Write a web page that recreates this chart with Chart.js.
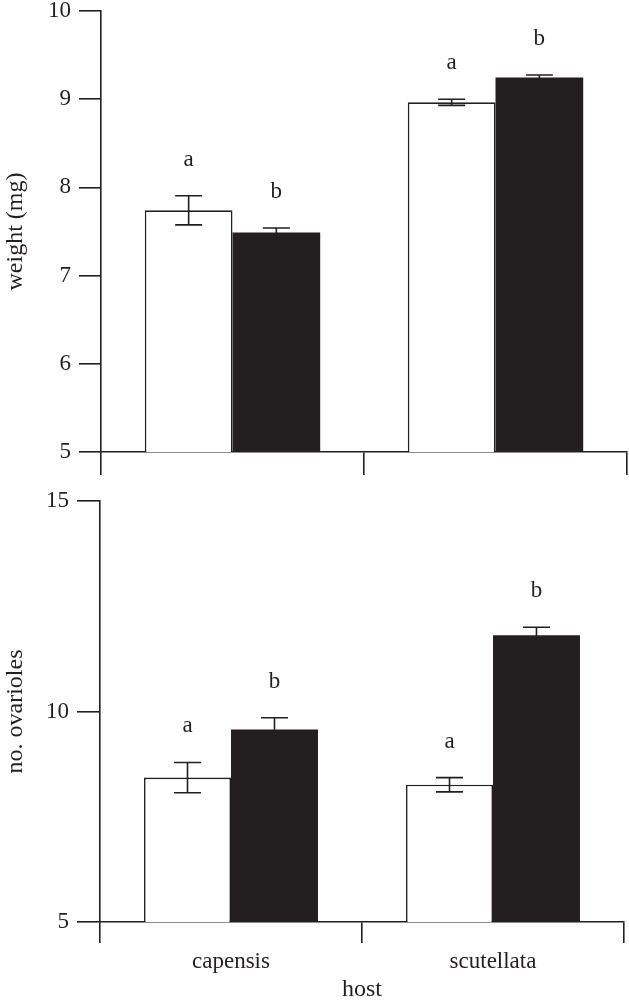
<!DOCTYPE html>
<html>
<head>
<meta charset="utf-8">
<script src="https://cdn.jsdelivr.net/npm/chart.js@4"></script>
<style>
  html, body { margin: 0; padding: 0; background: #fff; }
  #wrap { position: relative; width: 629px; height: 1005px; }
  canvas { position: absolute; left: 0; }
  #c1 { top: 0; }
  #c2 { top: 480px; }
</style>
</head>
<body>
<div id="wrap">
  <canvas id="c1" width="629" height="480"></canvas>
  <canvas id="c2" width="629" height="525"></canvas>
</div>
<script>
// ---- data ----
const categories = ['capensis', 'scutellata'];
const xTitle = 'host';

const weightOpen = [7.74, 8.965];
const weightOpenErr = [0.165, 0.035];
const weightFilled = [7.49, 9.245];
const weightFilledErr = [0.05, 0.03];
const weightLetters = [['a', 'a'], ['b', 'b']];

const ovaOpen = [8.43, 8.26];
const ovaOpenErr = [0.36, 0.17];
const ovaFilled = [9.57, 11.81];
const ovaFilledErr = [0.28, 0.19];
const ovaLetters = [['a', 'a'], ['b', 'b']];

const weightTicks = [5, 6, 7, 8, 9, 10];
const ovaTicks = [5, 10, 15];

// ---- style ----
const INK = '#231f20';
const FONT = 'Liberation Serif, Times New Roman, serif';
const LW = 1.6;

const errorPlugin = {
  id: 'errbars',
  afterDatasetsDraw(chart) {
    const ctx = chart.ctx;
    const ys = chart.scales.y;
    chart.data.datasets.forEach((ds, di) => {
      const meta = chart.getDatasetMeta(di);
      meta.data.forEach((el, i) => {
        const v = ds.data[i], e = ds.err[i];
        const yt = ys.getPixelForValue(v + e);
        const yb = ys.getPixelForValue(v - e);
        const x = el.x;
        ctx.save();
        ctx.strokeStyle = INK;
        ctx.lineWidth = LW;
        ctx.beginPath();
        ctx.moveTo(x, yt); ctx.lineTo(x, yb);
        ctx.moveTo(x - 13.5, yt); ctx.lineTo(x + 13.5, yt);
        ctx.moveTo(x - 13.5, yb); ctx.lineTo(x + 13.5, yb);
        ctx.stroke();
        ctx.fillStyle = INK;
        ctx.font = '23px ' + FONT;
        ctx.textAlign = 'center';
        ctx.textBaseline = 'middle';
        ctx.fillText(ds.letters[i], x, yt - 36);
        ctx.restore();
      });
    });
  }
};

function makeChart(id, opts) {
  return new Chart(document.getElementById(id), {
    type: 'bar',
    data: {
      labels: categories,
      datasets: [
        { data: opts.open, err: opts.openErr, letters: opts.letters[0],
          backgroundColor: '#ffffff', borderColor: INK, borderWidth: LW,
          categoryPercentage: opts.catPct, barPercentage: 1 },
        { data: opts.filled, err: opts.filledErr, letters: opts.letters[1],
          backgroundColor: INK, borderWidth: 0,
          categoryPercentage: opts.catPct, barPercentage: 1 }
      ]
    },
    options: {
      responsive: false,
      animation: false,
      layout: { padding: opts.padding },
      plugins: { legend: { display: false }, tooltip: { enabled: false } },
      scales: {
        x: {
          grid: { offset: true, drawOnChartArea: false, drawTicks: true,
                  tickLength: opts.xTickLen, color: INK, lineWidth: LW },
          border: { color: INK, width: LW },
          ticks: { display: opts.showX, color: INK, padding: 5,
                   font: { family: FONT, size: 23 } },
          title: { display: opts.showX, text: xTitle, color: INK,
                   font: { family: FONT, size: 24 }, padding: { top: 0, bottom: 1 } },
          afterFit(axis) { axis.height = opts.xHeight; axis.paddingLeft = 0; axis.paddingRight = 0; }
        },
        y: {
          min: opts.ticks[0], max: opts.ticks[opts.ticks.length - 1],
          afterBuildTicks(axis) { axis.ticks = opts.ticks.map(v => ({ value: v })); },
          grid: { drawOnChartArea: false, drawTicks: true, tickLength: opts.yTickLen,
                  color: INK, lineWidth: LW },
          border: { color: INK, width: LW },
          ticks: { color: INK, padding: 8, font: { family: FONT, size: 23 } },
          title: { display: true, text: opts.yTitle, color: INK,
                   font: { family: FONT, size: 24 }, padding: { top: 1, bottom: 0 } },
          afterFit(axis) { axis.width = opts.yWidth; axis.paddingTop = 0; axis.paddingBottom = 0; }
        }
      }
    },
    plugins: [errorPlugin]
  });
}

makeChart('c1', {
  open: weightOpen, openErr: weightOpenErr, filled: weightFilled, filledErr: weightFilledErr,
  letters: weightLetters, ticks: weightTicks, yTitle: 'weight (mg)',
  catPct: 0.667, padding: { left: 0, right: 2, top: 11, bottom: 0 },
  xTickLen: 23, yTickLen: 22, xHeight: 28, yWidth: 101, showX: false
});

makeChart('c2', {
  open: ovaOpen, openErr: ovaOpenErr, filled: ovaFilled, filledErr: ovaFilledErr,
  letters: ovaLetters, ticks: ovaTicks, yTitle: 'no. ovarioles',
  catPct: 0.664, padding: { left: 0, right: 5, top: 21, bottom: 0 },
  xTickLen: 21, yTickLen: 23, xHeight: 83, yWidth: 100, showX: true
});
</script>
</body>
</html>
